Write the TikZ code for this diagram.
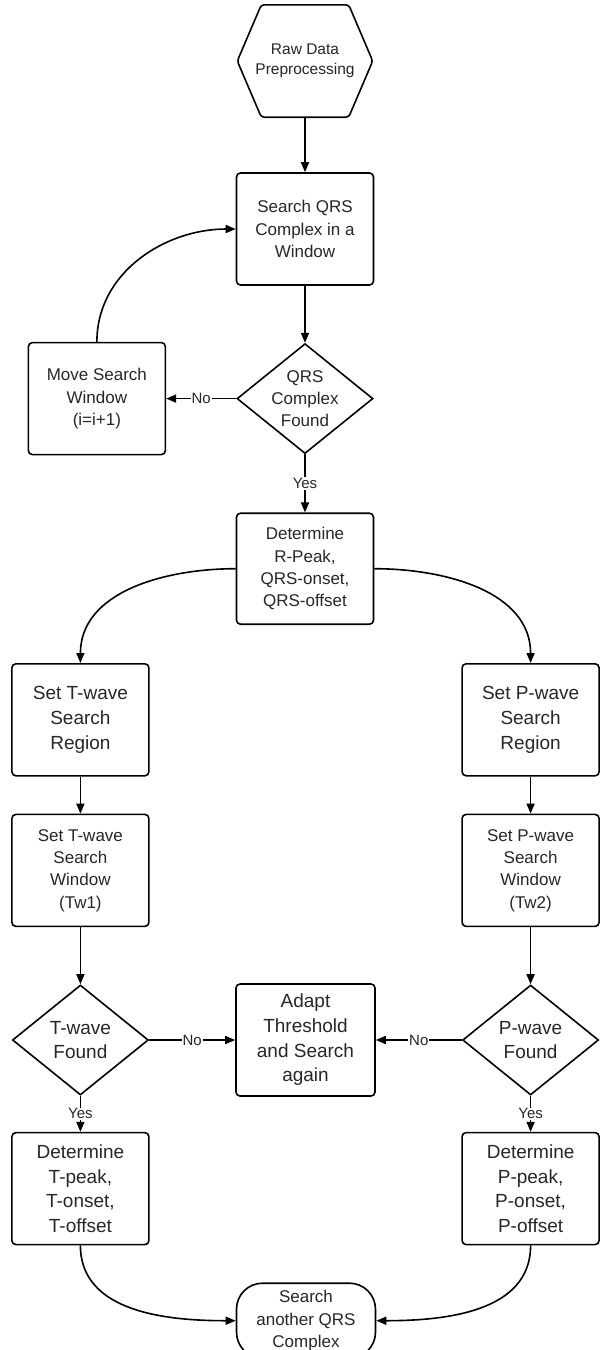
\documentclass[tikz,border=0pt]{standalone}
\usepackage{fontspec}
\setmainfont{Liberation Sans}
\usetikzlibrary{arrows.meta,positioning,shapes.geometric}

\begin{document}
\begin{tikzpicture}[
  x=1pt, y=1pt,
  node distance=37pt and 86pt,
  box/.style={draw, rounded corners=4pt, line width=1.6pt, align=center, minimum height=112pt, minimum width=137pt, inner sep=2pt, text=black!85, font=\fontsize{17}{22.3}\selectfont},
  big/.style={font=\fontsize{19}{24.7}\selectfont},
  dec/.style={draw, diamond, line width=1.6pt, align=center, minimum width=136pt, minimum height=110pt, inner sep=-10pt, text=black!85, font=\fontsize{17}{21.7}\selectfont},
  hexa/.style={align=center, minimum height=112pt, minimum width=135pt, text=black!85, font=\fontsize{15.5}{20}\selectfont},
  term/.style={box, rounded corners=26pt, minimum height=75pt, minimum width=139pt},
  arr/.style={-{Triangle[length=10pt,width=8pt]}, line width=1.6pt},
  lbl/.style={fill=white, inner sep=1pt, text=black!85, font=\fontsize{15}{16}\selectfont}
]
\useasboundingbox (0,0) rectangle (605,-1350);

\node[hexa] (raw) at (305,-61) {Raw Data\\ Preprocessing};
\draw[line width=1.6pt, rounded corners=3pt] (raw.west) -- ([xshift=24pt]raw.north west) -- ([xshift=-24pt]raw.north east)
  -- (raw.east) -- ([xshift=-24pt]raw.south east) -- ([xshift=24pt]raw.south west) -- cycle;

\node[box, below=55pt of raw] (search) {Search QRS\\ Complex in a\\ Window};
\node[dec, below=57pt of search] (qrs) {QRS\\ Complex\\ Found};
\node[box, left=70pt of qrs] (move) {Move Search\\ Window\\ (i=i+1)};
\node[box, below=58pt of qrs, minimum height=111pt] (detR) {Determine\\ R-Peak,\\ QRS-onset,\\ QRS-offset};

% two search branches
\node[box, big, below left=38pt and 86pt of detR] (tregion) {Set T-wave\\ Search\\ Region};
\node[box, big, below right=38pt and 87pt of detR] (pregion) {Set P-wave\\ Search\\ Region};
\node[box, below=of tregion] (twin) {Set T-wave\\ Search\\ Window\\ (Tw1)};
\node[box, below=of pregion] (pwin) {Set P-wave\\ Search\\ Window\\ (Tw2)};
\node[dec, below=57pt of twin, font=\fontsize{19}{23.3}\selectfont] (tfound) {T-wave\\ Found};
\node[dec, below=57pt of pwin, font=\fontsize{19}{23.3}\selectfont] (pfound) {P-wave\\ Found};
\node[box, big, right=86pt of tfound, minimum width=139pt] (adapt) {Adapt\\ Threshold\\ and Search\\ again};
\node[box, big, below=36pt of tfound] (tdet) {Determine\\ T-peak,\\ T-onset,\\ T-offset};
\node[box, big, below=36pt of pfound] (pdet) {Determine\\ P-peak,\\ P-onset,\\ P-offset};
\node[term, below right=37pt and 86pt of tdet] (another) {Search\\ another QRS\\ Complex};

\draw[arr] (raw) -- (search);
\draw[arr] (search) -- (qrs);
\draw[arr] (qrs) -- node[lbl] {No} (move);
\draw[arr] (move.north) to[out=90, in=180] (search.west);
\draw[arr] (qrs) -- node[lbl] {Yes} (detR);
\draw[arr] (detR.west) to[out=180, in=90] (tregion.north);
\draw[arr] (detR.east) to[out=0, in=90] (pregion.north);
\draw[arr] (tregion) -- (twin);
\draw[arr] (pregion) -- (pwin);
\draw[arr] (twin) -- (tfound);
\draw[arr] (pwin) -- (pfound);
\draw[arr] (tfound) -- node[lbl] {No} (adapt);
\draw[arr] (pfound) -- node[lbl] {No} (adapt);
\draw[arr] (tfound) -- node[lbl] {Yes} (tdet);
\draw[arr] (pfound) -- node[lbl] {Yes} (pdet);
\draw[arr] (tdet.south) to[out=-90, in=180] (another.west);
\draw[arr] (pdet.south) to[out=-90, in=0] (another.east);

\end{tikzpicture}
\end{document}
